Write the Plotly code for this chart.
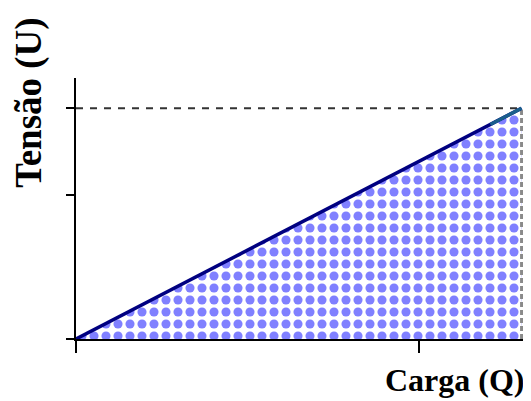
import plotly.graph_objects as go

# Data
carga = [0.0, 1.3]          # Q
tensao = [0.0, 1.6]         # U
x_ticks = [0, 1]
y_ticks = [0, 1, 1.6]
x_title = "Carga (Q)"
y_title = "Tensão (U)"

Q = carga[-1]
U = tensao[-1]

fig = go.Figure()

# speckled area under the line
fig.add_trace(go.Scatter(
    x=carga, y=tensao, mode="none", fill="tozeroy",
    fillcolor="#8080ff",
    fillpattern=dict(shape=".", fgcolor="#8080ff", bgcolor="white",
                     fgopacity=1, fillmode="replace",
                     size=12, solidity=0.45),
    hoverinfo="skip", showlegend=False))

# top dashed reference line
fig.add_trace(go.Scatter(
    x=[carga[0], Q], y=[U, U], mode="lines",
    line=dict(color="#333333", width=2, dash="7px,7px"),
    hoverinfo="skip", showlegend=False))

# right vertical gray dashed line
fig.add_trace(go.Scatter(
    x=[Q, Q], y=[tensao[0], U], mode="lines",
    line=dict(color="#8a8a8a", width=3, dash="5px,3px"),
    hoverinfo="skip", showlegend=False))

# main line
fig.add_trace(go.Scatter(
    x=carga, y=tensao, mode="lines",
    line=dict(color="#000080", width=3.5),
    hoverinfo="skip", showlegend=False))

# teal-ish end of line
fig.add_trace(go.Scatter(
    x=[Q * 0.93, Q], y=[U * 0.93, U], mode="lines",
    line=dict(color="#1a5f8c", width=3.5),
    hoverinfo="skip", showlegend=False))

fig.update_xaxes(range=[0, 1.31], tickvals=x_ticks, showticklabels=False,
                 ticks="outside", ticklen=12, tickwidth=2, tickcolor="black",
                 showline=True, linecolor="black", linewidth=2,
                 showgrid=False, zeroline=False, fixedrange=True)
fig.update_yaxes(range=[0, 1.81], tickvals=y_ticks, showticklabels=False,
                 ticks="outside", ticklen=8, tickwidth=2, tickcolor="black",
                 showline=True, linecolor="black", linewidth=2,
                 showgrid=False, zeroline=False, fixedrange=True)

fig.add_annotation(text="<b>" + y_title + "</b>", xref="paper", yref="paper",
                   x=-0.105, y=0.905, xanchor="center", yanchor="middle",
                   textangle=-90, showarrow=False,
                   font=dict(family="Liberation Serif, Times New Roman, serif",
                             size=37, color="black"))
fig.add_annotation(text="<b>" + x_title + "</b>", xref="paper", yref="paper",
                   x=1.004, y=-0.232, xanchor="right", yanchor="bottom",
                   showarrow=False,
                   font=dict(family="Liberation Serif, Times New Roman, serif",
                             size=32, color="black"))

# page body has an 8px margin; size the figure so the plot area lands right
fig.update_layout(width=523, height=393,
                  margin=dict(l=68, r=6, t=70, b=62),
                  paper_bgcolor="white", plot_bgcolor="white")

fig.write_html("out.html")
